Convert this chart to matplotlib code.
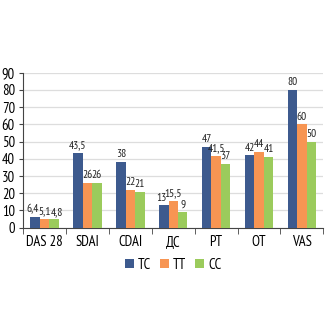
import matplotlib
matplotlib.use("Agg")
import matplotlib.pyplot as plt
import numpy as np

categories = ["DAS 28", "SDAI", "CDAI", "ДС", "РТ", "ОТ", "VAS"]
series_names = ["ТС", "ТТ", "СС"]
tc = [6.4, 43.5, 38, 13, 47, 42, 80]
tt = [5.1, 26, 22, 15.5, 41.5, 44, 60]
cc = [4.8, 26, 21, 9, 37, 41, 50]
colors = ["#3D5A8E", "#F79553", "#9BCB5C"]

plt.rcParams["font.family"] = ["PT Sans Narrow", "DejaVu Sans"]

fig = plt.figure(figsize=(3.3, 3.3), dpi=100)
ax = fig.add_axes([0.07, 0.31, 0.91, 0.47])

x = np.arange(len(categories))
w = 0.22
# nudge the value labels of the crowded groups apart (in points)
nudge = {(0, 0): -2, (0, 2): 2, (3, 0): -2}
for i, (vals, name, col) in enumerate(zip([tc, tt, cc], series_names, colors)):
    pos = x + (i - 1) * w
    ax.bar(pos, vals, width=w, color=col, label=name, zorder=3)
    for j, (p, v) in enumerate(zip(pos, vals)):
        txt = (f"{v:g}").replace(".", ",")
        ax.annotate(txt, (p, v), xytext=(nudge.get((j, i), 0), 2),
                    textcoords="offset points", ha="center", va="bottom",
                    fontsize=8.2, color="#222222")

ax.set_xlim(-0.5, len(categories) - 0.5)
ax.set_ylim(0, 90)
ax.set_yticks(range(0, 91, 10))
ax.yaxis.grid(True, color="#DDDDDD", linewidth=0.9, zorder=0)
ax.set_axisbelow(True)
for s in ["top", "right"]:
    ax.spines[s].set_visible(False)
ax.spines["left"].set_color("#444444")
ax.spines["bottom"].set_color("#444444")
ax.set_xticks(x)
ax.set_xticklabels(categories, fontsize=10.5)
ax.tick_params(axis="x", length=0, pad=5)
ax.set_xticks(np.arange(-0.5, len(categories)), minor=True)
ax.tick_params(axis="x", which="minor", length=4, color="#444444", direction="out")
ax.tick_params(axis="y", labelsize=10.5, length=3, color="#444444", pad=3)

ax.legend(loc="upper center", bbox_to_anchor=(0.5, -0.11), ncol=3, frameon=False,
          fontsize=10.5, handlelength=0.6, handleheight=0.6, handletextpad=0.3,
          columnspacing=0.6)

fig.savefig("out.png", dpi=100)
